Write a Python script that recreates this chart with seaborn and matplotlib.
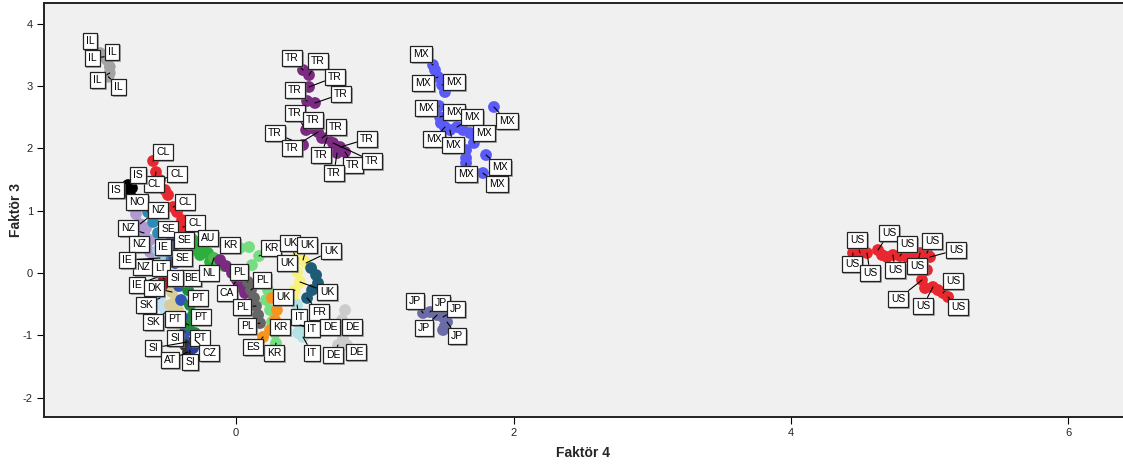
import numpy as np
import pandas as pd
import matplotlib
matplotlib.use("Agg")
import matplotlib.pyplot as plt
import matplotlib.patheffects as pe
import seaborn as sns

# ---------------- data (Faktör 4 = x, Faktör 3 = y) ----------------
IL_x = [-0.98, -0.95, -0.93, -0.91, -0.91, -0.92]
IL_y = [3.53, 3.47, 3.42, 3.31, 3.21, 3.15]

TR_x = [0.483, 0.526, 0.526, 0.512, 0.569, 0.505, 0.548, 0.591, 0.620, 0.656, 0.699, 0.750, 0.786, 0.728, 0.483]
TR_y = [3.258, 3.178, 2.986, 2.761, 2.729, 2.295, 2.327, 2.263, 2.167, 2.167, 2.087, 2.022, 1.942, 1.926, 2.055]

MX_x = [1.420, 1.434, 1.456, 1.485, 1.506, 1.463, 1.470, 1.506, 1.542, 1.593, 1.636, 1.686, 1.715, 1.658, 1.658, 1.658, 1.859, 1.802, 1.780, 1.477]
MX_y = [3.339, 3.258, 3.146, 3.018, 2.905, 2.681, 2.504, 2.343, 2.295, 2.343, 2.295, 2.247, 2.087, 1.974, 1.846, 1.766, 2.665, 1.894, 1.605, 2.408]

US_x = [4.447, 4.497, 4.548, 4.627, 4.656, 4.692, 4.735, 4.786, 4.836, 4.930, 4.980, 5.002, 4.980, 4.944, 4.966, 5.023, 5.059, 5.096, 5.132, 4.886]
US_y = [0.321, 0.321, 0.321, 0.369, 0.289, 0.257, 0.289, 0.273, 0.257, 0.321, 0.321, 0.257, 0.048, -0.112, -0.241, -0.225, -0.273, -0.321, -0.385, 0.289]

JP_x = [1.348, 1.398, 1.449, 1.492, 1.521, 1.492, 1.506]
JP_y = [-0.642, -0.626, -0.674, -0.706, -0.787, -0.915, -0.851]

CL_x = [-0.598, -0.577, -0.548, -0.512, -0.490, -0.454, -0.425, -0.389, -0.382]
CL_y = [1.798, 1.621, 1.493, 1.332, 1.252, 1.059, 0.979, 0.851, 0.738]

IS_x = [-0.778, -0.750, -0.778, -0.750, -0.728]
IS_y = [1.412, 1.364, 1.284, 1.204, 1.091]

NO_x = [-0.634, -0.598, -0.562, -0.526, -0.490]
NO_y = [0.979, 0.819, 0.642, 0.449, 0.273]

NZ_x = [-0.721, -0.692, -0.663, -0.641, -0.620, -0.598, -0.577, -0.649, -0.620]
NZ_y = [0.947, 0.787, 0.642, 0.482, 0.337, 0.177, 0.048, 0.722, 0.530]

SE_x = [-0.476, -0.461, -0.454, -0.447, -0.440]
SE_y = [0.658, 0.530, 0.401, 0.273, 0.161]

IE_x = [-0.562, -0.548, -0.533, -0.548, -0.562]
IE_y = [0.369, 0.241, 0.112, -0.048, -0.209]

LT_x = [-0.519, -0.497]
LT_y = [-0.096, -0.177]

DK_x = [-0.461, -0.432, -0.418, -0.404, -0.389, -0.476, -0.375]
DK_y = [-0.305, -0.433, -0.594, -0.754, -0.915, -0.514, -1.075]

SK_x = [-0.548, -0.526, -0.505]
SK_y = [-0.401, -0.530, -0.626]

BE_x = [-0.382, -0.346, -0.317, -0.295]
BE_y = [-0.161, -0.273, -0.385, -0.482]

SI_x = [-0.411, -0.396, -0.382, -0.368, -0.353, -0.332]
SI_y = [-0.209, -0.433, -0.722, -0.947, -1.108, -1.236]

PT_x = [-0.346, -0.332, -0.288, -0.310, -0.339, -0.295, -0.274]
PT_y = [-0.273, -0.514, -0.401, -0.674, -0.835, -0.963, -1.124]

AT_x = [-0.368, -0.346]
AT_y = [-1.156, -1.268]

CZ_x = [-0.295, -0.310]
CZ_y = [-1.075, -1.204]

AU_x = [-0.310, -0.274, -0.238, -0.202, -0.166, -0.259, -0.288, -0.187, -0.130]
AU_y = [0.530, 0.449, 0.369, 0.321, 0.241, 0.289, 0.369, 0.177, 0.177]

NL_x = [-0.159, -0.115, -0.086]
NL_y = [0.241, 0.177, 0.112]

CA_x = [-0.115, -0.072, -0.029, 0.007, 0.036, 0.065]
CA_y = [0.209, 0.112, 0.0, -0.112, -0.225, -0.321]

KR_x = [0.029, 0.094, 0.166, 0.115, 0.216, 0.245, 0.259, 0.281, 0.288, 0.231]
KR_y = [0.401, 0.417, 0.273, 0.128, -0.433, -0.594, -0.787, -0.963, -1.124, -0.273]

PL_x = [0.086, 0.108, 0.130, 0.144, 0.159, 0.173]
PL_y = [-0.144, -0.273, -0.401, -0.530, -0.674, -0.803]

ES_x = [0.259, 0.295, 0.281, 0.245, 0.195]
ES_y = [-0.401, -0.594, -0.754, -0.915, -1.027]

UK_x = [0.432, 0.483, 0.505, 0.440, 0.461, 0.425, 0.411]
UK_y = [0.241, 0.209, 0.161, 0.016, -0.144, -0.273, -0.401]

FR_x = [0.541, 0.577, 0.591, 0.548, 0.512]
FR_y = [0.080, -0.032, -0.161, -0.273, -0.401]

IT_x = [0.440, 0.454, 0.461, 0.447, 0.483]
IT_y = [-0.514, -0.674, -0.835, -0.963, -1.027]

DE_x = [0.786, 0.764, 0.750, 0.771, 0.800, 0.735]
DE_y = [-0.594, -0.754, -0.915, -1.043, -1.156, -1.156]

series = {
    "IL": (IL_x, IL_y), "TR": (TR_x, TR_y), "MX": (MX_x, MX_y), "US": (US_x, US_y),
    "JP": (JP_x, JP_y), "CL": (CL_x, CL_y), "IS": (IS_x, IS_y), "NZ": (NZ_x, NZ_y),
    "NO": (NO_x, NO_y), "IE": (IE_x, IE_y), "SE": (SE_x, SE_y), "LT": (LT_x, LT_y),
    "SK": (SK_x, SK_y), "DK": (DK_x, DK_y), "BE": (BE_x, BE_y), "SI": (SI_x, SI_y),
    "PT": (PT_x, PT_y), "AT": (AT_x, AT_y), "CZ": (CZ_x, CZ_y), "AU": (AU_x, AU_y),
    "NL": (NL_x, NL_y), "CA": (CA_x, CA_y), "KR": (KR_x, KR_y), "PL": (PL_x, PL_y),
    "ES": (ES_x, ES_y), "UK": (UK_x, UK_y), "FR": (FR_x, FR_y), "IT": (IT_x, IT_y),
    "DE": (DE_x, DE_y),
}

# ---------------- styles ----------------
palette = {
    "IL": "#a3a3a3", "TR": "#7a2a80", "MX": "#5a5bf7", "US": "#e8282e", "JP": "#6b6ba6",
    "CL": "#e8282e", "IS": "#000000", "NO": "#2b8db3", "NZ": "#b09ad0", "SE": "#2f4fa3",
    "IE": "#a7cdea", "LT": "#9c1f1f", "DK": "#d8cc98", "SK": "#c2def2", "BE": "#ccf5c4",
    "SI": "#3256b8", "PT": "#1e8a3c", "AT": "#333333", "CZ": "#2a3c99", "AU": "#2eae3d",
    "NL": "#4cba4c", "CA": "#7a2a80", "KR": "#76dd80", "PL": "#666666", "ES": "#f7941d",
    "UK": "#f8f27a", "FR": "#1d5b77", "IT": "#b3e3e5", "DE": "#cccccc",
}

# label placement: (point index, dx px, dy px)
label_offsets = {
    "IL": [(0, -10, 12), (2, 5, 8), (1, -12, -1), (4, -12, -7), (5, 10, -10)],
    "TR": [(0, -11, 12), (1, 9, 14), (2, 26, 10), (3, -12, 11), (4, 26, 9), (5, -11, 17),
           (6, 1, 8), (8, 14, 11), (14, -28, 12), (11, 27, 8), (7, -26, -16), (9, -6, -17),
           (12, 8, -13), (10, 39, -18), (13, -3, -20)],
    "MX": [(0, -12, 11), (2, -15, -6), (3, 12, 3), (5, -13, -2), (6, 14, 5), (9, 15, 10),
           (16, 13, -14), (12, 10, 10), (7, -11, -12), (8, 3, -15), (17, 14, -12),
           (18, 14, -11), (15, 0, -11)],
    "US": [(1, -3, 13), (3, 11, 17), (7, 7, 12), (10, 5, 12), (11, 26, 7), (0, -1, -11),
           (2, 3, -20), (6, 2, -15), (9, -3, -13), (17, 10, 12), (13, -24, -19),
           (15, -10, -19), (18, 10, -10)],
    "JP": [(0, -8, 12), (1, 11, 9), (3, 13, 8), (2, -13, -13), (4, 10, -14)],
    "CL": [(0, 10, 9), (2, 17, 6), (1, -2, -12), (5, 12, 5), (8, 12, 4)],
    "IS": [(1, 6, 13), (2, -12, 3)],
    "NO": [(0, -11, 10)],
    "NZ": [(1, 18, 14), (2, -16, 5), (3, -8, -1), (5, -10, -5)],
    "SE": [(0, -2, 3), (1, 12, 0), (3, 8, -2)],
    "IE": [(0, 5, 3), (1, -33, -2), (3, -23, -9)],
    "LT": [(0, -3, 11)],
    "DK": [(0, -18, 4)],
    "SK": [(0, -14, -7), (2, -13, -10)],
    "BE": [(0, 8, 5)],
    "SI": [(0, -4, 8), (3, -10, -6), (4, -34, -6), (5, 0, -12)],
    "PT": [(1, 8, 7), (3, 8, -2), (4, -14, 6), (5, 5, -5)],
    "AT": [(1, -18, -8)],
    "CZ": [(0, 14, -13)],
    "AU": [(1, 10, 7)],
    "NL": [(0, -5, -15)],
    "CA": [(3, -10, -13)],
    "KR": [(0, -10, 3), (2, 12, 8), (6, 8, -5), (8, -2, -10)],
    "PL": [(0, -9, 10), (1, 11, 10), (3, -14, -1), (5, -13, -3)],
    "ES": [(4, -10, -10)],
    "UK": [(0, -6, 15), (1, 4, 15), (2, 25, 12), (3, -10, 9), (4, 27, -10), (5, -12, -7)],
    "FR": [(4, 12, -14)],
    "IT": [(0, 2, -12), (2, 12, -4), (4, 9, -16)],
    "DE": [(2, -10, 3), (1, 10, -7), (4, 9, -7), (5, -5, -10)],
}

rows = []
for c, (xs, ys) in series.items():
    for x, y in zip(xs, ys):
        rows.append({"country": c, "f4": x, "f3": y})
df = pd.DataFrame(rows)

sns.set_theme(style="white")
plt.rcParams["font.family"] = ["Liberation Sans", "DejaVu Sans"]
plt.rcParams["axes.unicode_minus"] = False

DPI = 100
fig = plt.figure(figsize=(11.23, 4.68), dpi=DPI)
ax = fig.add_axes([44 / 1123, 51 / 468, 1 - 44 / 1123, (417 - 3) / 468])
ax.set_facecolor("#f0f0f0")

sns.scatterplot(data=df, x="f4", y="f3", hue="country", hue_order=list(series.keys()),
                palette=palette, s=72, linewidth=0, alpha=1, legend=False, ax=ax, zorder=2)

for c, specs in label_offsets.items():
    xs, ys = series[c]
    for idx, dx, dy in specs:
        ann = ax.annotate(c, xy=(xs[idx], ys[idx]), xytext=(dx, dy), textcoords="offset pixels",
                          ha="center", va="center", fontsize=7.5, color="black", zorder=5,
                          bbox=dict(boxstyle="square,pad=0.3", fc="white", ec="#222222", lw=0.9),
                          arrowprops=dict(arrowstyle="-", color="black", lw=0.8,
                                          shrinkA=0, shrinkB=0))
        ann.get_bbox_patch().set_path_effects([
            pe.SimplePatchShadow(offset=(1.2, -1.2), shadow_rgbFace="#777777", alpha=0.6),
            pe.Normal()])

ax.set_xlim(-1.384, 6.393)
ax.set_ylim(-2.311, 4.334)
ax.set_xticks([0, 2, 4, 6])
ax.set_yticks([-2, -1, 0, 1, 2, 3, 4])
ax.tick_params(axis="both", direction="out", length=5, width=0.8, color="black",
               labelsize=8, pad=3, left=True, bottom=True)
for sp in ["left", "bottom", "top"]:
    ax.spines[sp].set_visible(True)
    ax.spines[sp].set_color("#222222")
    ax.spines[sp].set_linewidth(1.4)
ax.spines["right"].set_visible(False)
ax.set_xlabel("Faktör 4", fontsize=10, fontweight="bold")
ax.set_ylabel("Faktör 3", fontsize=10, fontweight="bold")
ax.xaxis.set_label_coords((583 - 44) / 1079, -(453 - 417) / 414)
ax.yaxis.set_label_coords(-(44 - 16) / 1079, (417 - 210) / 414)
ax.xaxis.label.set_va("center")
ax.yaxis.label.set_va("center")

fig.savefig("out.png", dpi=DPI)
